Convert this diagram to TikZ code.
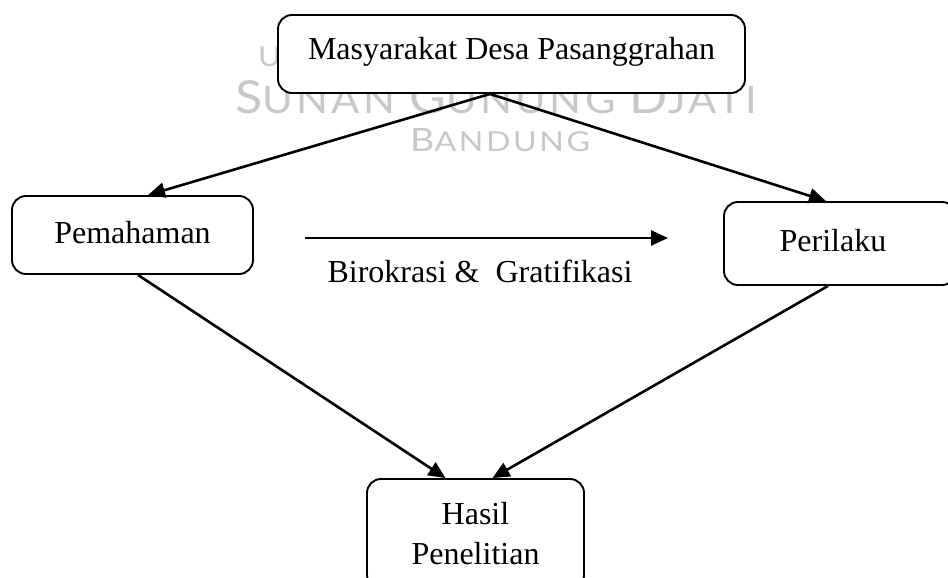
\documentclass[tikz,border=0pt]{standalone}
\usepackage{graphicx}
\usepackage{fontspec}
\setmainfont{Liberation Serif}
\newfontfamily\wmfont[LetterSpace=8]{Lato}
\usetikzlibrary{arrows.meta}
\definecolor{wmgray}{RGB}{200,200,200}
\begin{document}
\begin{tikzpicture}[x=1pt,y=-1pt,
  box/.style={draw=black, line width=1.9pt, rounded corners=14pt, fill=white, inner sep=0pt},
  lbl/.style={font=\fontsize{32}{40}\selectfont, inner sep=0pt, align=center},
  wm/.style={text=wmgray, inner sep=0pt, font=\wmfont\fontsize{30}{30}\selectfont},
  conn/.style={line width=2.6pt, -{Triangle[length=17pt,width=15pt]}},
]
\useasboundingbox (0,0) rectangle (948,578);
% watermark
\node[wm, anchor=base west] (wmA) at (258,67)
  {\resizebox{470pt}{20pt}{UNIVERSITAS ISLAM NEGERI}};
\node[wm, anchor=base west] (wmB) at (235,113)
  {\resizebox{522pt}{33pt}{{\fontsize{36}{36}\selectfont S}UNAN {\fontsize{36}{36}\selectfont G}UNUNG {\fontsize{36}{36}\selectfont D}JATI}};
\node[wm, anchor=base west] (wmC) at (410,151)
  {\resizebox{180pt}{23pt}{{\fontsize{35}{35}\selectfont B}ANDUNG}};
% boxes
\node[box, minimum width=467pt, minimum height=78pt] (top) at (511.5,54) {};
\node[lbl] (topt) at (511.5,52) {Masyarakat Desa Pasanggrahan};
\node[box, minimum width=241pt, minimum height=78pt] (pem) at (132.5,235) {};
\node[lbl] (pemt) at (132.5,233) {Pemahaman};
\node[box, minimum width=232pt, minimum height=83pt] (per) at (840,243.5) {};
\node[lbl] (pert) at (833,241) {Perilaku};
\node[box, minimum width=217pt, minimum height=110pt] (has) at (475.5,534) {};
\node[lbl] (hast) at (475.5,534) {Hasil\\Penelitian};
% connectors
\draw[conn] ([xshift=-21.5pt]top.south) -- ([xshift=15.5pt]pem.north);
\draw[conn] ([xshift=-21.5pt]top.south) -- ([xshift=-14pt]per.north);
\draw[conn] ([xshift=5.5pt]pem.south) -- ([xshift=-30pt]has.north);
\draw[conn] ([xshift=-12pt]per.south) -- ([xshift=17pt]has.north);
\coordinate (h1) at (305,238);
\coordinate (h2) at (668,238);
\draw[conn] (h1) -- (h2);
\node[lbl] (birt) at (480,271) {Birokrasi \&\ \ Gratifikasi};
\end{tikzpicture}
\end{document}
